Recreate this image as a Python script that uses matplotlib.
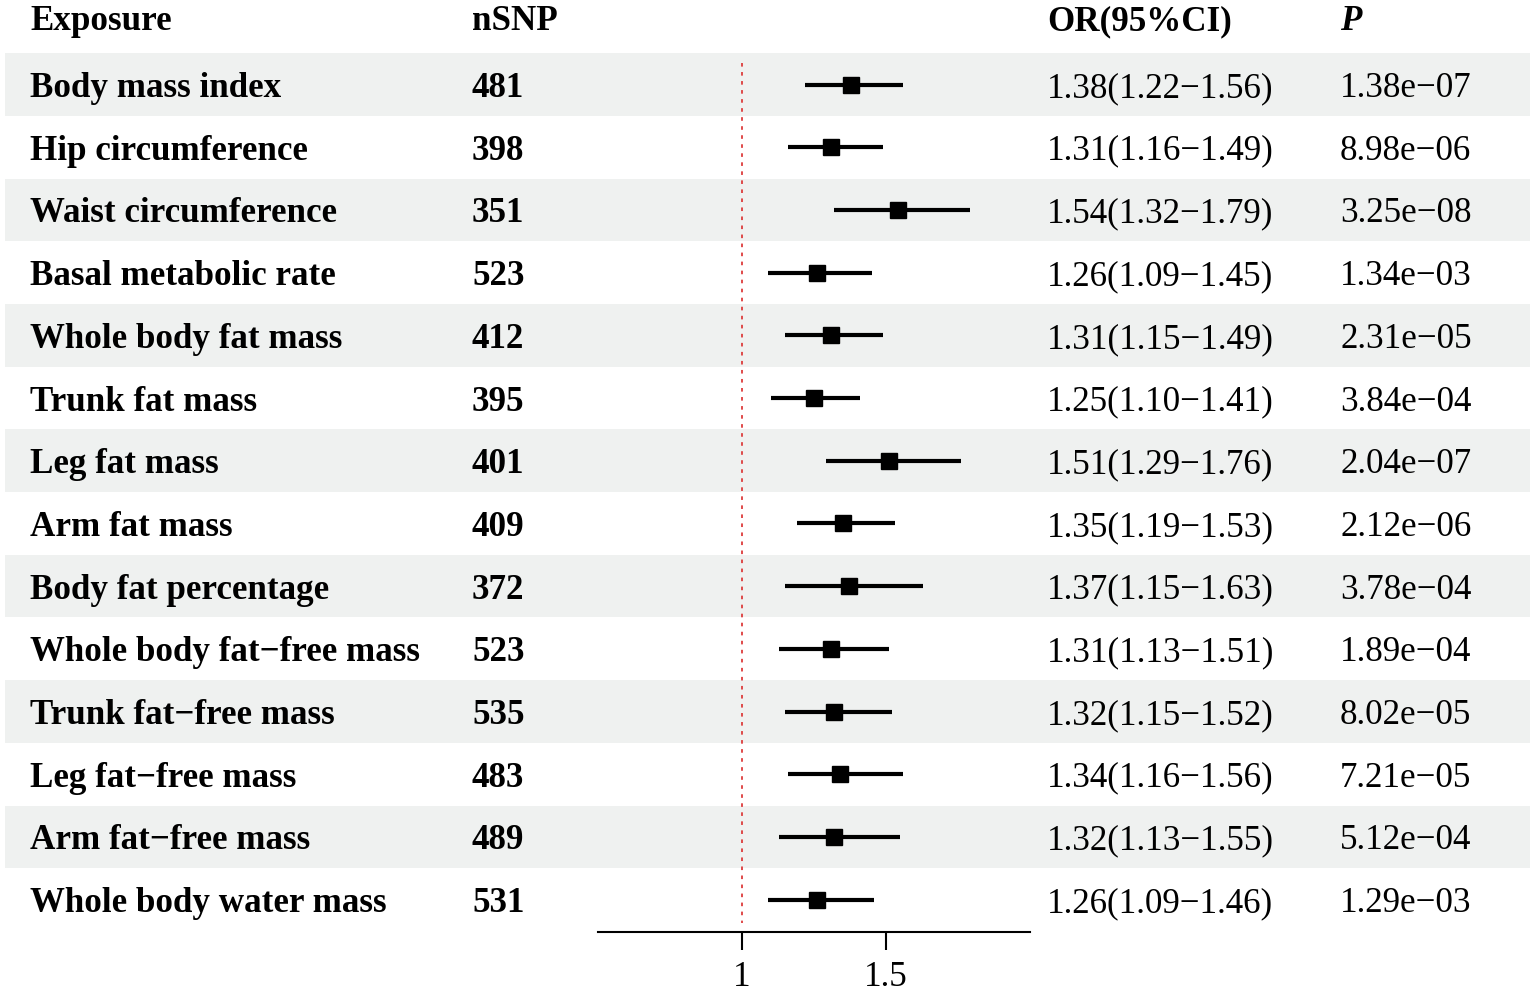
import numpy as np
import matplotlib
matplotlib.use("Agg")
import matplotlib.pyplot as plt

plt.rcParams['font.family'] = ['Liberation Serif', 'DejaVu Serif']

# Data
exposures = ["Body mass index", "Hip circumference", "Waist circumference",
             "Basal metabolic rate", "Whole body fat mass", "Trunk fat mass",
             "Leg fat mass", "Arm fat mass", "Body fat percentage",
             "Whole body fat\u2212free mass", "Trunk fat\u2212free mass",
             "Leg fat\u2212free mass", "Arm fat\u2212free mass",
             "Whole body water mass"]
nsnp = [481, 398, 351, 523, 412, 395, 401, 409, 372, 523, 535, 483, 489, 531]
or_val = [1.38, 1.31, 1.54, 1.26, 1.31, 1.25, 1.51, 1.35, 1.37, 1.31, 1.32, 1.34, 1.32, 1.26]
ci_low = [1.22, 1.16, 1.32, 1.09, 1.15, 1.10, 1.29, 1.19, 1.15, 1.13, 1.15, 1.16, 1.13, 1.09]
ci_high = [1.56, 1.49, 1.79, 1.45, 1.49, 1.41, 1.76, 1.53, 1.63, 1.51, 1.52, 1.56, 1.55, 1.46]
p_text = ["1.38e\u221207", "8.98e\u221206", "3.25e\u221208", "1.34e\u221203", "2.31e\u221205",
          "3.84e\u221204", "2.04e\u221207", "2.12e\u221206", "3.78e\u221204", "1.89e\u221204",
          "8.02e\u221205", "7.21e\u221205", "5.12e\u221204", "1.29e\u221203"]
x_ticks = [1, 1.5]

W, H = 1535, 994
row0 = 84.5     # pixel centre of first row
row_h = 62.7    # pixel height of one row
y_top = (0 - row0) / row_h
fs = 25.2

fig = plt.figure(figsize=(W / 100, H / 100), dpi=100)

# background / table axes over the whole figure, x in pixels, y in rows
bg = fig.add_axes([0, 0, 1, 1])
bg.set_xlim(0, W)
bg.set_ylim((H - row0) / row_h, y_top)
bg.axis("off")

n = len(exposures)
for i in range(n):
    if i % 2 == 0:
        bg.fill_between([5, W - 5], i - 0.5, i + 0.5, color="#eff1f0", lw=0, zorder=0)

col_exp, col_n, col_or, col_p = 30, 472, 1047, 1340
hy = -0.87
bg.text(col_exp, hy, "Exposure", fontsize=fs, fontweight="bold", va="baseline")
bg.text(col_n, hy, "nSNP", fontsize=fs, fontweight="bold", va="baseline")
bg.text(col_or, hy, "OR(95%CI)", fontsize=fs, fontweight="bold", va="baseline")
bg.text(col_p, hy, "P", fontsize=fs, fontweight="bold", fontstyle="italic", va="baseline")

for i in range(n):
    yb = i + 0.2
    bg.text(col_exp, yb, exposures[i], fontsize=fs, fontweight="bold", va="baseline")
    bg.text(col_n, yb, str(nsnp[i]), fontsize=fs, fontweight="bold", va="baseline")
    bg.text(col_or, yb, "%.2f(%.2f\u2212%.2f)" % (or_val[i], ci_low[i], ci_high[i]),
            fontsize=fs, va="baseline")
    bg.text(col_p, yb, p_text[i], fontsize=fs, va="baseline")

# forest axes
ax_left, ax_right, ax_bottom_px = 598, 1030, 932
ax = fig.add_axes([ax_left / W, (H - ax_bottom_px) / H, (ax_right - ax_left) / W, ax_bottom_px / H])
ax.patch.set_alpha(0)
ax.set_xlim(0.5, 2.0)
ax.set_ylim((ax_bottom_px - row0) / row_h, y_top)
ys = np.arange(n)
ax.vlines(1, -0.35, 13.37, colors="#dd3c3c", linestyles=(0, (2, 3)), lw=1.3)
ax.hlines(ys, ci_low, ci_high, colors="black", lw=3)
ax.plot(or_val, ys, "s", color="black", ms=12, zorder=3)

for s in ["top", "right", "left"]:
    ax.spines[s].set_visible(False)
ax.spines["bottom"].set_linewidth(1.5)
ax.set_yticks([])
ax.set_xticks(x_ticks)
ax.set_xticklabels(["1", "1.5"], fontsize=fs)
ax.tick_params(axis="x", length=13, width=1.5, pad=8)

fig.savefig("out.png", dpi=100)
